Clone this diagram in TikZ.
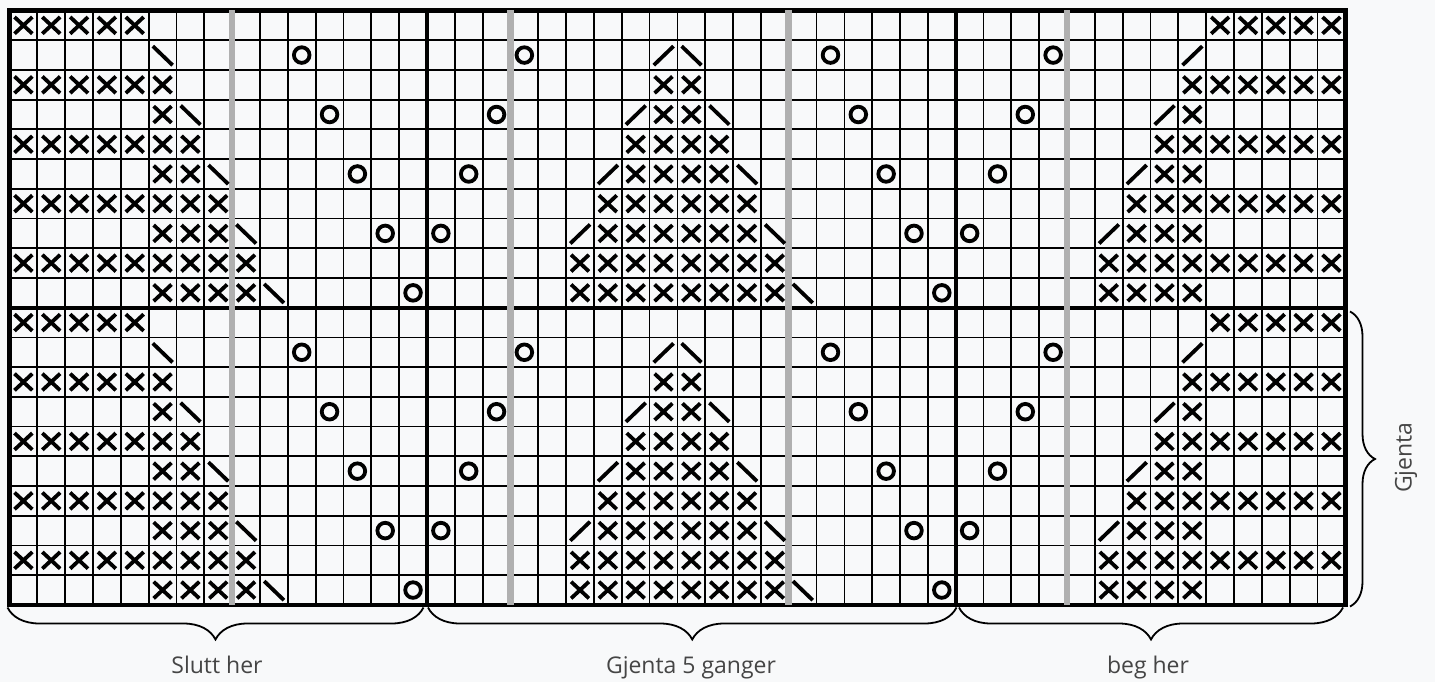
\documentclass[tikz,border=0pt]{standalone}
\usepackage{fontspec}
\setmainfont{Open Sans}
\usetikzlibrary{decorations.pathreplacing}
\definecolor{bgc}{HTML}{F8F9FA}
\definecolor{greyln}{HTML}{B0B0B0}
\definecolor{txt}{HTML}{454545}
\definecolor{ink}{HTML}{000000}
\begin{document}
\begin{tikzpicture}[x=1pt,y=1pt,
  gridln/.style={line width=1.8pt, draw=ink},
  thickln/.style={line width=4.3pt, draw=ink},
  greyl/.style={line width=6.5pt, draw=greyln},
  sym/.style={line width=3.8pt, draw=ink},
  osym/.style={line width=3.8pt, draw=ink},
  brc/.style={decorate, decoration={brace, amplitude=32pt}, line width=1.8pt, draw=ink},
  lbl/.style={text=txt, font=\fontsize{23}{27}\selectfont, inner sep=0pt}]
\fill[bgc] (0,0) rectangle (1435,-682);
\begin{scope}[shift={(9.5pt,-10.5pt)}, x=27.83pt, y=-29.72pt]
  % thin grid
  \foreach \c in {1,...,47} \draw[gridln] (\c,0) -- (\c,20);
  \foreach \r in {1,...,19} \draw[gridln] (0,\r) -- (48,\r);
  % thick lines
  \draw[thickln] (0,0) rectangle (48,20);
  \draw[thickln] (15,0) -- (15,20) (34,0) -- (34,20) (0,10) -- (48,10);
  % grey guide lines
  \foreach \c in {8,18,28,38} \draw[greyl] (\c,0) -- (\c,20);
  % symbols, two identical halves
  \foreach \h in {0,10}{
    \foreach \r/\cl in {
      0/{0,1,2,3,4,43,44,45,46,47},
      2/{0,1,2,3,4,5,23,24,42,43,44,45,46,47},
      3/{5,23,24,42},
      4/{0,1,2,3,4,5,6,22,23,24,25,41,42,43,44,45,46,47},
      5/{5,6,22,23,24,25,41,42},
      6/{0,1,2,3,4,5,6,7,21,22,23,24,25,26,40,41,42,43,44,45,46,47},
      7/{5,6,7,21,22,23,24,25,26,40,41,42},
      8/{0,1,2,3,4,5,6,7,8,20,21,22,23,24,25,26,27,39,40,41,42,43,44,45,46,47},
      9/{5,6,7,8,20,21,22,23,24,25,26,27,39,40,41,42}}{
      \foreach \c in \cl {
        \draw[sym] (\c+0.18,\r+\h+0.22) -- (\c+0.82,\r+\h+0.78)
                   (\c+0.18,\r+\h+0.78) -- (\c+0.82,\r+\h+0.22);
      }
    }
    \foreach \r/\c in {1/5,1/24,3/6,3/25,5/7,5/26,7/8,7/27,9/9,9/28}
      \draw[sym] (\c+0.15,\r+\h+0.2) -- (\c+0.86,\r+\h+0.84);
    \foreach \r/\c in {1/23,1/42,3/22,3/41,5/21,5/40,7/20,7/39}
      \draw[sym] (\c+0.15,\r+\h+0.84) -- (\c+0.86,\r+\h+0.2);
    \foreach \r/\c in {1/10,1/18,1/29,1/37,3/11,3/17,3/30,3/36,5/12,5/16,5/31,5/35,7/13,7/15,7/32,7/34,9/14,9/33}
      \draw[osym] (\c+0.5,\r+\h+0.5) circle[radius=7.8pt];
  }
\end{scope}
% braces
\coordinate (bLa) at (423.5,-607.5); \coordinate (bLb) at (7.5,-607.5);
\coordinate (bMa) at (956.5,-607.5); \coordinate (bMb) at (428,-607.5);
\coordinate (bRa) at (1343,-607.5); \coordinate (bRb) at (959,-607.5);
\coordinate (bVa) at (1350,-311.5); \coordinate (bVb) at (1350,-606.5);
\draw[brc] (bLa) -- (bLb);
\draw[brc] (bMa) -- (bMb);
\draw[brc] (bRa) -- (bRb);
\draw[brc, decoration={brace, amplitude=25pt}] (bVa) -- (bVb);
% labels
\node[lbl, anchor=base] (slutt) at (217,-673) {Slutt her};
\node[lbl, anchor=base] (gjenta5) at (691,-673) {Gjenta 5 ganger};
\node[lbl, anchor=base] (beg) at (1148,-673) {beg her};
\node[lbl, rotate=90] (gjenta) at (1406,-457.5) {Gjenta};
\end{tikzpicture}
\end{document}
